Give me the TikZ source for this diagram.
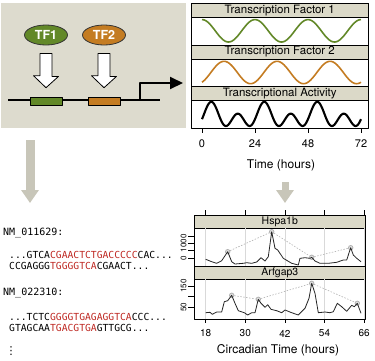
\documentclass[tikz,border=0pt]{standalone}
\usepackage{fontspec}
\setmainfont{TeX Gyre Heros}
\newfontfamily\seqfont{DejaVu Sans Mono}
\newfontfamily\dotsfont{DejaVu Sans}
\usetikzlibrary{shapes.geometric,arrows.meta,calc}
\definecolor{panelbg}{RGB}{221,219,206}
\definecolor{stripbg}{RGB}{219,217,200}
\definecolor{tfgreen}{RGB}{98,136,40}
\definecolor{tforange}{RGB}{196,124,34}
\definecolor{seqred}{RGB}{190,40,34}
\definecolor{flowgray}{RGB}{200,198,185}
\begin{document}
\begin{tikzpicture}[x=1pt,y=-1pt,line join=round,font=\fontsize{11.5}{13}\selectfont,
		tf/.style={ellipse,draw=black!80,line width=0.8pt,minimum width=43pt,minimum height=20pt,inner sep=0pt,text=white,font=\fontsize{12.5}{14}\selectfont\bfseries},
		site/.style={draw=black,line width=0.6pt,minimum width=32pt,minimum height=8pt,inner sep=0pt},
		strip/.style={draw=black,line width=0.6pt,fill=stripbg,inner sep=0pt,anchor=north west},
		flow/.style={flowgray,-{Triangle[length=13pt,width=17pt]}},
		seq/.style={anchor=base west,inner sep=0pt,font=\seqfont\fontsize{9.7}{11}\selectfont},
		gene/.style={anchor=base west,inner sep=0pt,font=\seqfont\fontsize{10}{11}\selectfont},
		tick/.style={inner sep=0pt,font=\fontsize{11}{12}\selectfont},
		peak/.style={circle,draw=black!30,fill=black!12,line width=0.8pt,inner sep=0pt,minimum size=4.5pt}]
	\useasboundingbox (0,0) rectangle (375,360);
	% regulation sketch
	\fill[panelbg] (1,3) rectangle (186,128);
	\node[tf,fill=tfgreen] (tf1) at (46,35) {TF1};
	\node[tf,fill=tforange] (tf2) at (104,35) {TF2};
	\coordinate (dnaL) at (8,100);
	\coordinate (dnaR) at (160,100);
	\coordinate (tss) at (140,100);
	\coordinate (tssend) at (183,83);
	\draw[line width=2pt] (dnaL) -- (dnaR);
	\node[site,fill=tfgreen] (site1) at (46,101) {};
	\node[site,fill=tforange] (site2) at (104,101) {};
	\foreach \t/\b in {tf1/site1,tf2/site2}
		\draw[fill=white,line width=0.8pt] ($(\t.south)+(-6,8)$) -- ++(12,0) -- ++(0,23) -- ++(6.5,0)
			-- ($(\b.north)+(0,-9)$) -- ++(-12.5,-12) -- ++(6.5,0) -- cycle;
	\draw[line width=2pt,-{Triangle[length=13pt,width=12pt]}] (tss) |- (tssend);
	% oscillations
	\def\tx#1{202+2.2083*#1}
	\node[strip,minimum width=177pt,minimum height=14pt] (fac1) at (191,3) {Transcription Factor 1};
	\node[strip,minimum width=177pt,minimum height=14pt] (fac2) at (191,44.7) {Transcription Factor 2};
	\node[strip,minimum width=177pt,minimum height=14pt] (act) at (191,86.3) {Transcriptional Activity};
	\begin{scope}
		\clip (191,3) rectangle (368,128);
		\draw[tfgreen,line width=1.6pt,samples=150,smooth,domain=0:72] plot({\tx{\x}},{30.8-11.2*cos(15*\x)});
		\draw[tforange,line width=1.6pt,samples=150,smooth,domain=0:72] plot({\tx{\x}},{72.5-11.2*cos(15*(\x-10))});
		\draw[black,line width=2.1pt,samples=200,smooth,domain=0:72] plot({\tx{\x}},{101.8+5.93*(2.5-cos(15*(\x-4.2))-1.5*cos(30*(\x-4.2)))});
	\end{scope}
	\draw[line width=0.6pt] (191,3) rectangle (368,128);
	\foreach \h in {0,24,48,72}{
		\draw[line width=0.6pt] ({\tx{\h}},128) -- ({\tx{\h}},133);
		\node[tick] (tl\h) at ({\tx{\h}},144) {\h};
	}
	\node[font=\fontsize{12}{14}\selectfont] (ttitle) at (281,165) {Time (hours)};
	% flow arrows
	\coordinate (lflowA) at (30,140);
	\coordinate (lflowB) at (30,203);
	\coordinate (rflowA) at (285,182);
	\coordinate (rflowB) at (285,203);
	\draw[flow,line width=9pt] (lflowA) -- (lflowB);
	\draw[flow,line width=7pt] (rflowA) -- (rflowB);
	% promoter sequences
	\node[gene] (nm1) at (3,235.3) {NM\_011629:};
	\node[seq] (s1a) at (9,258.5) {...GTCA\textcolor{seqred}{CGAACTCTGACCCCC}CAC...};
	\node[seq] (s1b) at (9,269) {CCGAGGG\textcolor{seqred}{TGGGGTCA}CGAACT...};
	\node[gene] (nm2) at (3,295.3) {NM\_022310:};
	\node[seq] (s2a) at (9,320.2) {...TCTC\textcolor{seqred}{GGGGTGAGAGGTCA}CCC...};
	\node[seq] (s2b) at (9,331.2) {GTAGCAA\textcolor{seqred}{TGACGTGA}GTTGCG...};
	\node[inner sep=0pt,font=\dotsfont\fontsize{11}{12}\selectfont] (more) at (11,351) {⋮};
	% expression profiles
	\def\cx#1{205.7+3.30*(#1-18)}
	\node[strip,minimum width=171pt,minimum height=13pt,font=\fontsize{10.5}{12}\selectfont] (hsp) at (194,215) {Hspa1b};
	\node[strip,minimum width=171pt,minimum height=13pt,font=\fontsize{10.5}{12}\selectfont] (arf) at (194,266) {Arfgap3};
	\foreach \h in {18,30,42,54,66}{
		\draw[black!15,line width=0.6pt] ({\cx{\h}},228) -- ({\cx{\h}},266) ({\cx{\h}},279) -- ({\cx{\h}},319);
		\draw[line width=0.6pt] ({\cx{\h}},215) -- ({\cx{\h}},210) ({\cx{\h}},319) -- ({\cx{\h}},323);
		\node[tick,font=\fontsize{10}{11}\selectfont] (cl\h) at ({\cx{\h}},333.5) {\h};
	}
	\foreach \y in {258,250.6,243.2,235.8}
		\draw[line width=0.6pt] (194,\y) -- (188,\y);
	\foreach \y in {307.3,296.6,285.9}
		\draw[line width=0.6pt] (194,\y) -- (188,\y);
	\node[tick,rotate=90,font=\fontsize{8}{9}\selectfont] (y0) at (183.5,258) {0};
	\node[tick,rotate=90,font=\fontsize{8}{9}\selectfont] (y1000) at (183.5,243.2) {1000};
	\node[tick,rotate=90,font=\fontsize{8}{9}\selectfont] (y50) at (183.5,307.3) {50};
	\node[tick,rotate=90,font=\fontsize{8}{9}\selectfont] (y150) at (183.5,285.9) {150};
	\node[peak] (h1) at (227.7,251.7) {};
	\node[peak] (h2) at (271.7,231.7) {};
	\node[peak] (h3) at (311.7,257.3) {};
	\node[peak] (h4) at (350.7,247.7) {};
	\node[peak] (a1) at (231.7,295.3) {};
	\node[peak] (a2) at (258.3,299.3) {};
	\node[peak] (a3) at (311.7,283.3) {};
	\node[peak] (a4) at (357.3,303.3) {};
	\draw[black!30,line width=0.6pt,dash pattern=on 1.5pt off 1.5pt] (h1) -- (h2) -- (h3) -- (h4);
	\draw[black!30,line width=0.6pt,dash pattern=on 1.5pt off 1.5pt] (a1) -- (a2) -- (a3) -- (a4);
	\draw[black!85,line width=0.8pt] plot coordinates {(205.7,259.3) (211.7,261.7) (216.7,263.3) (221.7,260.7) (227.7,251.7) (231.7,261.7) (235,264) (243.3,263.3) (246.7,262.7) (251.7,263.3) (256.7,262) (261,257.7) (265,261) (268.3,256.7) (271.7,231.7) (275,248.3) (277.7,250) (283.3,258.3) (291.7,263.3) (298.3,265) (300,258.3) (305,257.7) (310,258.3) (311.7,257.3) (315,261) (320,263.3) (328.3,263.3) (336.7,262.3) (343.3,260) (346.7,260) (350.7,247.7) (353.3,255) (356.7,258.3) (361,261.7)};
	\draw[black!85,line width=0.8pt] plot coordinates {(205.7,312.7) (210,312.3) (212.3,314.3) (216.7,312) (221.7,312) (224.3,301.7) (227.7,300.7) (231.7,295.3) (235,303.3) (238.3,310.7) (244.3,312.7) (247.7,315) (251.7,312.7) (255,312.7) (258.3,299.3) (261,303.3) (265,307.3) (267.7,304.7) (271,309.3) (276.7,310.7) (281.7,312.7) (285,310) (291.7,312.7) (298.3,315) (305,308.3) (309,298.3) (311.7,283.3) (315,293.3) (318.3,312.7) (325,312) (330,312.7) (333.3,311.7) (337.3,303.3) (341.7,306.7) (346.7,311.3) (351.7,305.3) (354.3,306.7) (357.3,303.3) (361,313.3)};
	\draw[line width=0.6pt] (194,215) rectangle (365,319);
	\node[font=\fontsize{12}{14}\selectfont] (ctitle) at (278,350) {Circadian Time (hours)};
\end{tikzpicture}
\end{document}
